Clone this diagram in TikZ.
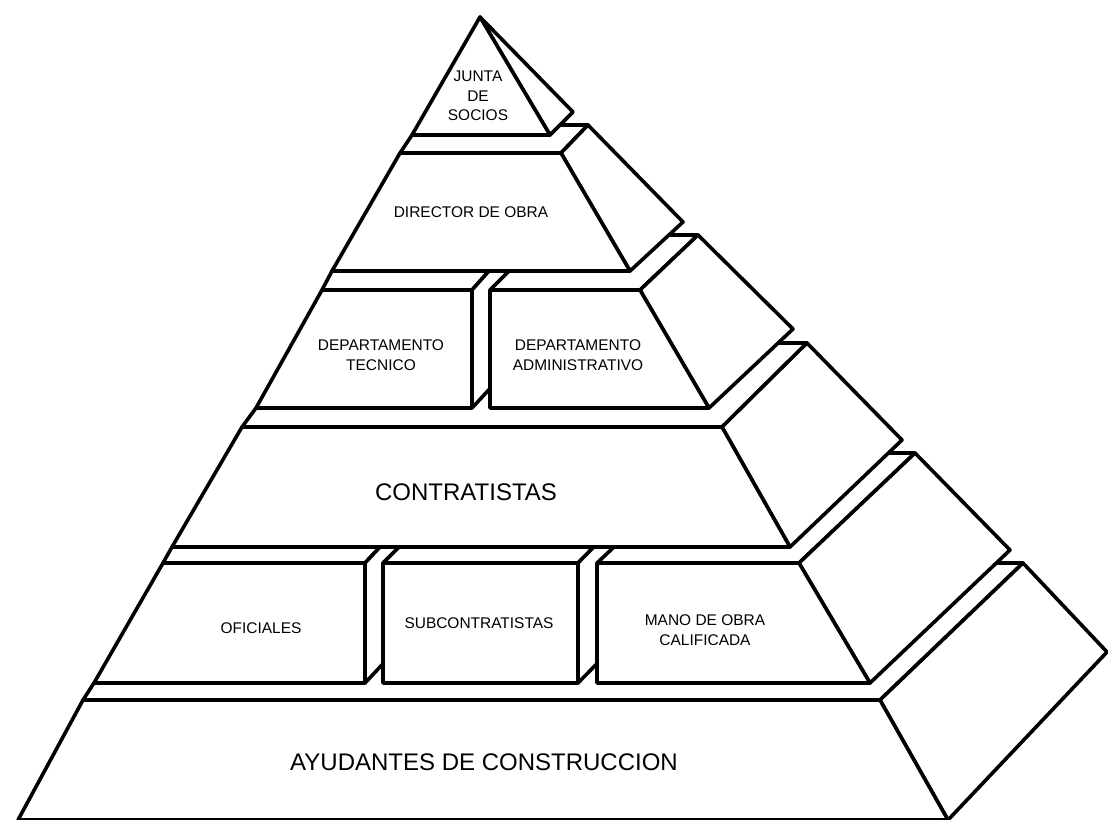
\documentclass[tikz,border=0pt]{standalone}
\usepackage{fontspec}
\setmainfont{Liberation Sans}
\begin{document}
\begin{tikzpicture}[x=0.75pt,y=-0.75pt,
  face/.style={draw=black, fill=white, line width=2.7pt, line join=round},
  lbl/.style={font=\fontsize{11.6}{14.5}\selectfont, align=center, inner sep=0pt},
  biglbl/.style={font=\fontsize{18}{21}\selectfont, inner sep=0pt}]
\useasboundingbox (0,0) rectangle (1108,819);
\fill[white] (0,0) rectangle (1108,819);

% ---- level 6: ayudantes ----
\draw[face] (83,700) -- (880,700) -- (1023,563) -- (960,563) -- (700,600) -- (300,600) -- (94,683) -- cycle;
\draw[face] (880,700) -- (1023,563) -- (1107,652) -- (948,820) -- cycle;
\draw[face] (83,700) -- (880,700) -- (948,820) -- (18,820) -- cycle;

% ---- level 5: oficiales / subcontratistas / mano de obra ----
\draw[face] (163,563) -- (365,563) -- (395,531) -- (200,531) -- (172,547) -- cycle;
\draw[face] (365,563) -- (410,515) -- (410,635) -- (365,683) -- cycle;
\draw[face] (163,563) -- (365,563) -- (365,683) -- (94,683) -- cycle;

\draw[face] (383,563) -- (578,563) -- (610,531) -- (415,531) -- cycle;
\draw[face] (578,563) -- (625,515) -- (625,635) -- (578,683) -- cycle;
\draw[face] (383,563) -- (578,563) -- (578,683) -- (383,683) -- cycle;

\draw[face] (597,563) -- (799,563) -- (915,453) -- (700,453) -- (631,531) -- cycle;
\draw[face] (799,563) -- (915,453) -- (1010,550) -- (870,683) -- cycle;
\draw[face] (597,563) -- (799,563) -- (870,683) -- (597,683) -- cycle;

% ---- level 4: contratistas ----
\draw[face] (242,427) -- (722,427) -- (807,343) -- (400,343) -- (256,408) -- cycle;
\draw[face] (722,427) -- (807,343) -- (902,440) -- (790,547) -- cycle;
\draw[face] (242,427) -- (722,427) -- (790,547) -- (172,547) -- cycle;

% ---- level 3: departamentos ----
\draw[face] (322,290) -- (472,290) -- (503,255) -- (360,255) -- (332,271) -- cycle;
\draw[face] (472,290) -- (520,236) -- (520,356) -- (472,408) -- cycle;
\draw[face] (322,290) -- (472,290) -- (472,408) -- (256,408) -- cycle;

\draw[face] (490,290) -- (640,290) -- (698,235) -- (560,235) -- (535,245) -- cycle;
\draw[face] (640,290) -- (698,235) -- (793,329) -- (709,408) -- cycle;
\draw[face] (490,290) -- (640,290) -- (709,408) -- (490,408) -- cycle;

% ---- level 2: director ----
\draw[face] (400,153) -- (561,153) -- (588,125) -- (470,125) -- (412,135) -- cycle;
\draw[face] (561,153) -- (588,125) -- (683,222) -- (630,271) -- cycle;
\draw[face] (400,153) -- (561,153) -- (630,271) -- (332,271) -- cycle;

% ---- level 1: junta ----
\draw[face] (480,17) -- (573,112) -- (550,135) -- cycle;
\draw[face] (480,17) -- (550,135) -- (412,135) -- cycle;

% ---- labels ----
\node[lbl] (junta) at (478,96) {JUNTA\\DE\\SOCIOS};
\node[lbl] (director) at (471,212) {DIRECTOR DE OBRA};
\node[lbl] (tecnico) at (381,355) {DEPARTAMENTO\\TECNICO};
\node[lbl] (admin) at (578,355) {DEPARTAMENTO\\ADMINISTRATIVO};
\node[biglbl] (contratistas) at (466,492) {CONTRATISTAS};
\node[lbl] (oficiales) at (261,628) {OFICIALES};
\node[lbl] (subcontratistas) at (479,623) {SUBCONTRATISTAS};
\node[lbl] (mano) at (705,630) {MANO DE OBRA\\CALIFICADA};
\node[biglbl] (ayudantes) at (484,762) {AYUDANTES DE CONSTRUCCION};
\end{tikzpicture}
\end{document}
